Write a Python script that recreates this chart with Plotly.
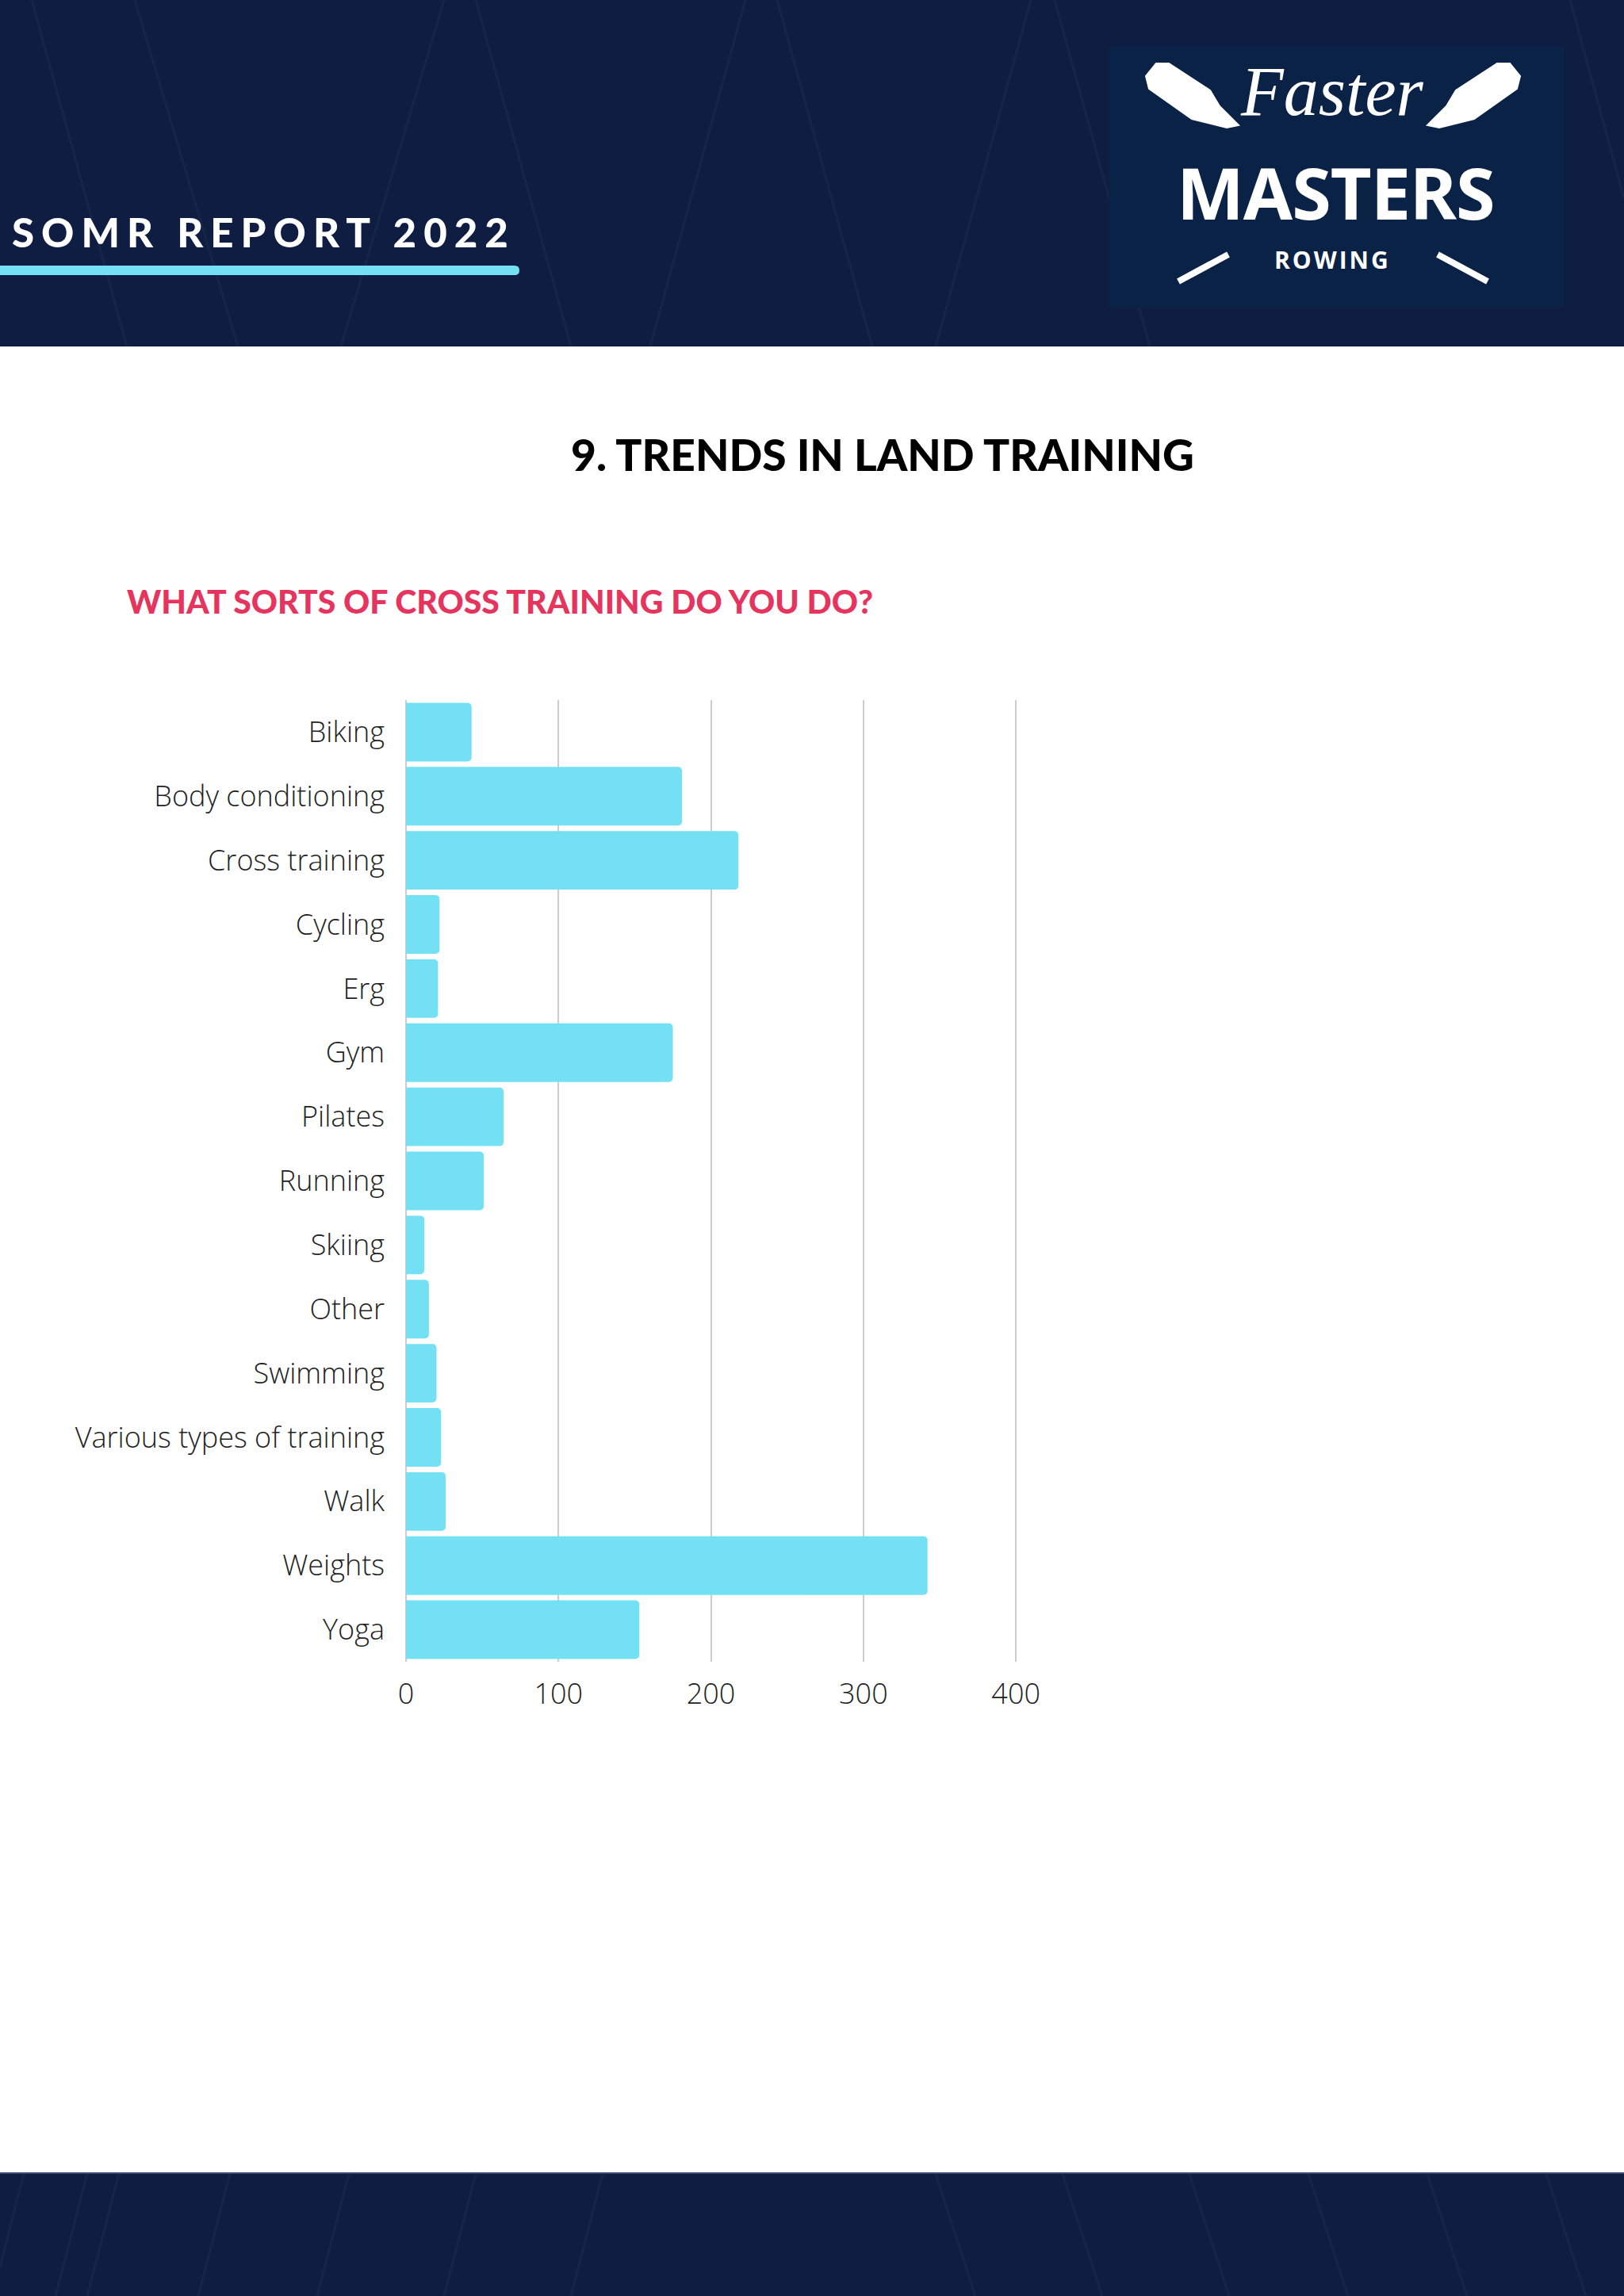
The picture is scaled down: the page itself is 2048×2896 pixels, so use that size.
import plotly.graph_objects as go

# ---------------- data ----------------
categories = ["Biking", "Body conditioning", "Cross training", "Cycling", "Erg", "Gym",
              "Pilates", "Running", "Skiing", "Other", "Swimming",
              "Various types of training", "Walk", "Weights", "Yoga"]
responses = [43, 181, 218, 22, 21, 175, 64, 51, 12, 15, 20, 23, 26, 342, 153]
x_ticks = [0, 100, 200, 300, 400]

header_text = "SOMR REPORT 2022"
title_text = "9. TRENDS IN LAND TRAINING"
subtitle_text = "WHAT SORTS OF CROSS TRAINING DO YOU DO?"

# ---------------- page geometry helpers ----------------
W, H = 2048, 2896
def fx(x):
    return x / W
def fy(y):
    return 1 - y / H
def poly(points):
    s = "M " + " L ".join(f"{fx(x):.5f},{fy(y):.5f}" for x, y in points) + " Z"
    return s

NAVY = "#0E1D41"
LOGO_BG = "#0B2247"
CYAN = "#73E0F4"
HEAVY = "Lato Black, Lato"

fig = go.Figure()
fig.add_trace(go.Bar(
    x=responses, y=categories, orientation="h",
    marker=dict(color=CYAN, line=dict(width=0)),
    hoverinfo="skip",
))

shapes = []
# header / footer bands
shapes.append(dict(type="rect", xref="paper", yref="paper", x0=0, x1=1, y0=fy(437), y1=1,
                   fillcolor=NAVY, line=dict(width=0), layer="below"))
shapes.append(dict(type="rect", xref="paper", yref="paper", x0=0, x1=1, y0=0, y1=fy(2740),
                   fillcolor=NAVY, line=dict(width=0), layer="below"))
shapes.append(dict(type="line", xref="paper", yref="paper", x0=0, x1=1, y0=fy(2741), y1=fy(2741),
                   line=dict(color="#3A4D70", width=2)))
# faint texture lines in header
tex = "rgba(255,255,255,0.035)"
for (x0, y0, x1, y1) in [(40, 0, 160, 437), (170, 0, 300, 437), (430, 437, 560, 0), (600, 0, 720, 437),
                         (820, 437, 940, 0), (980, 0, 1100, 437), (1180, 437, 1300, 0), (1330, 0, 1450, 437),
                         (1980, 0, 2048, 250)]:
    shapes.append(dict(type="line", xref="paper", yref="paper", x0=fx(x0), y0=fy(y0), x1=fx(x1), y1=fy(y1),
                       line=dict(color=tex, width=3), layer="below"))
for (x0, y0, x1, y1) in [(0, 2860, 30, 2742), (70, 2896, 110, 2742), (110, 2896, 150, 2742), (250, 2896, 290, 2742),
                         (400, 2896, 440, 2742), (560, 2896, 600, 2742), (720, 2896, 760, 2742),
                         (1180, 2742, 1230, 2896), (1340, 2742, 1390, 2896), (1500, 2742, 1550, 2896),
                         (1650, 2742, 1700, 2896), (1800, 2742, 1850, 2896), (1950, 2742, 2000, 2896)]:
    shapes.append(dict(type="line", xref="paper", yref="paper", x0=fx(x0), y0=fy(y0), x1=fx(x1), y1=fy(y1),
                       line=dict(color=tex, width=3), layer="below"))
# cyan underline bar
ul = (f"M {fx(0)},{fy(335)} L {fx(649)},{fy(335)} Q {fx(655)},{fy(335)} {fx(655)},{fy(341)} "
      f"Q {fx(655)},{fy(347)} {fx(649)},{fy(347)} L {fx(0)},{fy(347)} Z")
shapes.append(dict(type="path", xref="paper", yref="paper", path=ul, fillcolor=CYAN, line=dict(width=0)))
# logo box
shapes.append(dict(type="rect", xref="paper", yref="paper", x0=fx(1398), x1=fx(1972), y0=fy(388), y1=fy(59),
                   fillcolor=LOGO_BG, line=dict(width=0)))
# oar blades
left_blade = [(1458, 80), (1474, 80), (1526, 114), (1538, 134), (1562, 158), (1547, 161),
              (1503, 150), (1449, 112), (1445, 96)]
right_blade = [(3362 - x, y) for x, y in left_blade]
for b in (left_blade, right_blade):
    shapes.append(dict(type="path", xref="paper", yref="paper", path=poly(b),
                       fillcolor="white", line=dict(color="white", width=2)))
# oar shafts (lower parts)
for (x0, y0, x1, y1) in [(1486, 355, 1549, 321), (1876, 355, 1813, 321)]:
    shapes.append(dict(type="line", xref="paper", yref="paper", x0=fx(x0), y0=fy(y0), x1=fx(x1), y1=fy(y1),
                       line=dict(color="white", width=8)))

annotations = [
    dict(text=f"<span style='letter-spacing:9px'>{header_text}</span>", x=fx(13), y=fy(292),
         xanchor="left", yanchor="middle",
         font=dict(family=HEAVY, size=51, color="white", weight=900)),
    dict(text=title_text, x=fx(1113), y=fy(573), xanchor="center", yanchor="middle",
         font=dict(family=HEAVY, size=55, color="black", weight=900)),
    dict(text=subtitle_text, x=fx(158), y=fy(759), xanchor="left", yanchor="middle",
         font=dict(family=HEAVY, size=41, color="#E5355E", weight=900)),
    dict(text="Faster", x=fx(1680), y=fy(116), xanchor="center", yanchor="middle",
         font=dict(family="Liberation Serif", size=88, color="white", style="italic")),
    dict(text="<span style='letter-spacing:-1px'>MASTERS</span>",
         x=fx(1684), y=fy(242), xanchor="center", yanchor="middle",
         font=dict(family="Noto Sans", size=90, color="white", weight=700)),
    dict(text="<span style='letter-spacing:3px'>ROWING</span>", x=fx(1680), y=fy(328),
         xanchor="center", yanchor="middle",
         font=dict(family="Open Sans", size=30, color="white", weight=700)),
]
for a in annotations:
    a.update(xref="paper", yref="paper", showarrow=False)

fig.update_layout(
    width=W, height=H, autosize=False,
    margin=dict(l=0, r=0, t=0, b=0, pad=0, autoexpand=False),
    paper_bgcolor="white", plot_bgcolor="white",
    showlegend=False,
    bargap=0.086,
    barcornerradius=5,
    font=dict(family="Open Sans", weight=300, color="#222222"),
    shapes=shapes,
    annotations=annotations,
    hovermode=False,
)
fig.update_xaxes(
    domain=[fx(512), fx(512 + 405 * 1.923)],
    range=[0, 405],
    tickvals=x_ticks,
    showgrid=True, gridcolor="#CCCCCC", gridwidth=2,
    zeroline=True, zerolinecolor="#CCCCCC", zerolinewidth=2,
    showline=False, ticks="",
    tickfont=dict(family="Open Sans", size=36, color="#222222", weight=300),
    ticklabelstandoff=16,
    automargin=False,
    fixedrange=True,
)
fig.update_yaxes(
    domain=[fy(2096), fy(883)],
    autorange="reversed",
    type="category",
    showgrid=False, showline=False, ticks="",
    tickfont=dict(family="Open Sans", size=36, color="#222222", weight=300),
    ticklabelstandoff=26,
    automargin=False,
    fixedrange=True,
)

post = (
    "var de=document.documentElement;de.style.margin='0';de.style.padding='0';de.style.overflow='hidden';"
    "var b=document.body;b.style.margin='0';b.style.padding='0';b.style.overflow='hidden';"
    "var gd=document.getElementById('{plot_id}');gd.style.position='absolute';"
    "gd.style.left='0px';gd.style.top='0px';"
)
fig.write_html("out.html",
               config={"responsive": False, "displayModeBar": False, "staticPlot": True},
               post_script=post)
